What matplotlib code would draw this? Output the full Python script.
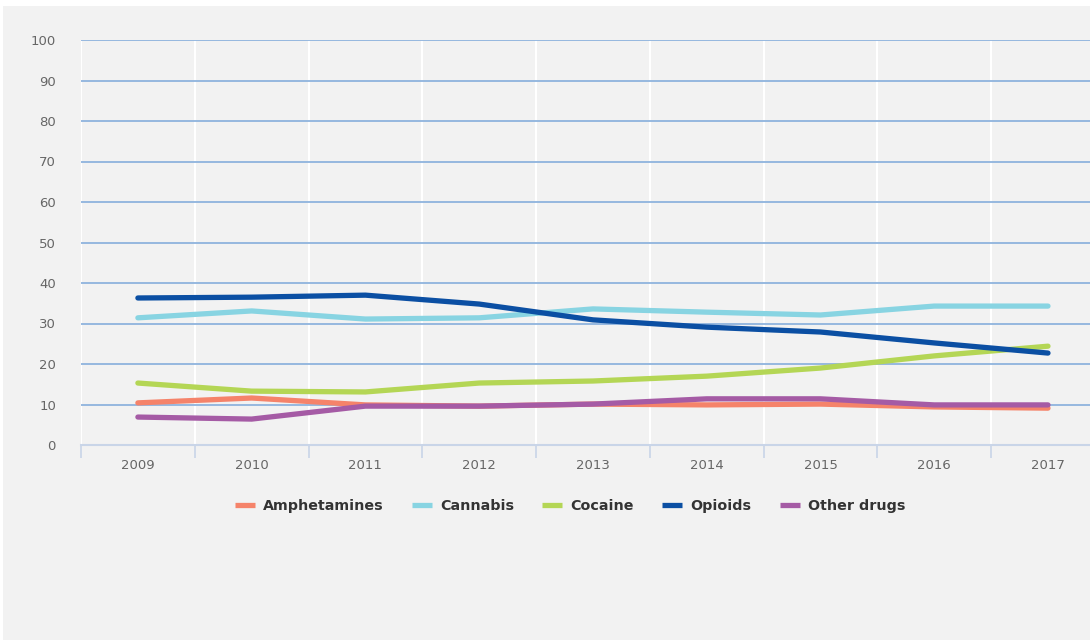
import matplotlib
matplotlib.use("Agg")
import matplotlib.pyplot as plt
from matplotlib.patches import Rectangle
import numpy as np

# --- dades llegides del gràfic ---
years = ["2009", "2010", "2011", "2012", "2013", "2014", "2015", "2016", "2017"]
amphetamines = [10.4, 11.6, 9.9, 9.6, 10.1, 9.9, 10.1, 9.4, 9.1]
cannabis = [31.4, 33.1, 31.1, 31.4, 33.6, 32.8, 32.1, 34.3, 34.3]
cocaine = [15.3, 13.3, 13.1, 15.3, 15.8, 17.0, 19.0, 22.0, 24.4]
opioids = [36.3, 36.5, 37.0, 34.8, 30.9, 29.1, 27.9, 25.2, 22.7]
other_drugs = [6.9, 6.4, 9.6, 9.6, 10.1, 11.4, 11.4, 9.9, 9.9]

series = [
    ("Amphetamines", amphetamines, "#f5836a"),
    ("Cannabis", cannabis, "#88d4e2"),
    ("Cocaine", cocaine, "#b4d655"),
    ("Opioids", opioids, "#0b4fa3"),
    ("Other drugs", other_drugs, "#a55ba5"),
]
y_ticks = list(range(0, 101, 10))

fig = plt.figure(figsize=(10.9, 6.4), dpi=100)
fig.patch.set_facecolor("white")
# fons gris (deixa una vora blanca a dalt i a l'esquerra)
fig.patches.append(Rectangle((3 / 1090, 0), 1087 / 1090, 634 / 640,
                             transform=fig.transFigure, facecolor="#f2f2f2",
                             edgecolor="none", zorder=-10))

ax = fig.add_axes([81 / 1090, 195 / 640, 1009 / 1090, 405 / 640])
ax.patch.set_alpha(0)

x = np.arange(len(years))
for name, vals, col in series:
    ax.plot(x, vals, color=col, lw=3.8, solid_capstyle="round",
            solid_joinstyle="round", label=name, zorder=3)

bounds = np.arange(len(years) + 1) - 0.5
ax.set_yticks(y_ticks)
ax.set_xticks(x)
ax.set_xticklabels(years)
ax.set_xticks(bounds, minor=True)

# graella
for v in y_ticks[1:]:
    ax.axhline(v, color="#8fb3dd", lw=1.3, zorder=1)
for b in bounds:
    ax.axvline(b, color="white", lw=1.5, zorder=0.5)
# limits després dels ticks (set_xticks els amplia)
ax.set_ylim(0, 100)
ax.set_xlim(-0.5, (1090 - 138) / 113.75)

for s in ["top", "right", "left"]:
    ax.spines[s].set_visible(False)
ax.spines["bottom"].set_color("#c9d5e8")
ax.spines["bottom"].set_linewidth(1.5)

ax.tick_params(axis="y", length=0, pad=18, labelsize=9.5, labelcolor="#666666")
ax.tick_params(axis="x", which="major", length=0, pad=10, labelsize=9.5,
               labelcolor="#666666")
ax.tick_params(axis="x", which="minor", length=9.5, width=1.2, color="#c9d5e8")

leg = fig.legend(loc="center", bbox_to_anchor=(570 / 1090, 134 / 640), ncol=5,
                 frameon=False, handlelength=1.4, handletextpad=0.55,
                 columnspacing=2.0,
                 prop={"size": 10.3, "weight": "bold"})
for t in leg.get_texts():
    t.set_color("#333333")
for h in leg.get_lines():
    h.set_linewidth(3.8)
    h.set_solid_capstyle("butt")

fig.savefig("out.png", dpi=100, facecolor=fig.get_facecolor())
